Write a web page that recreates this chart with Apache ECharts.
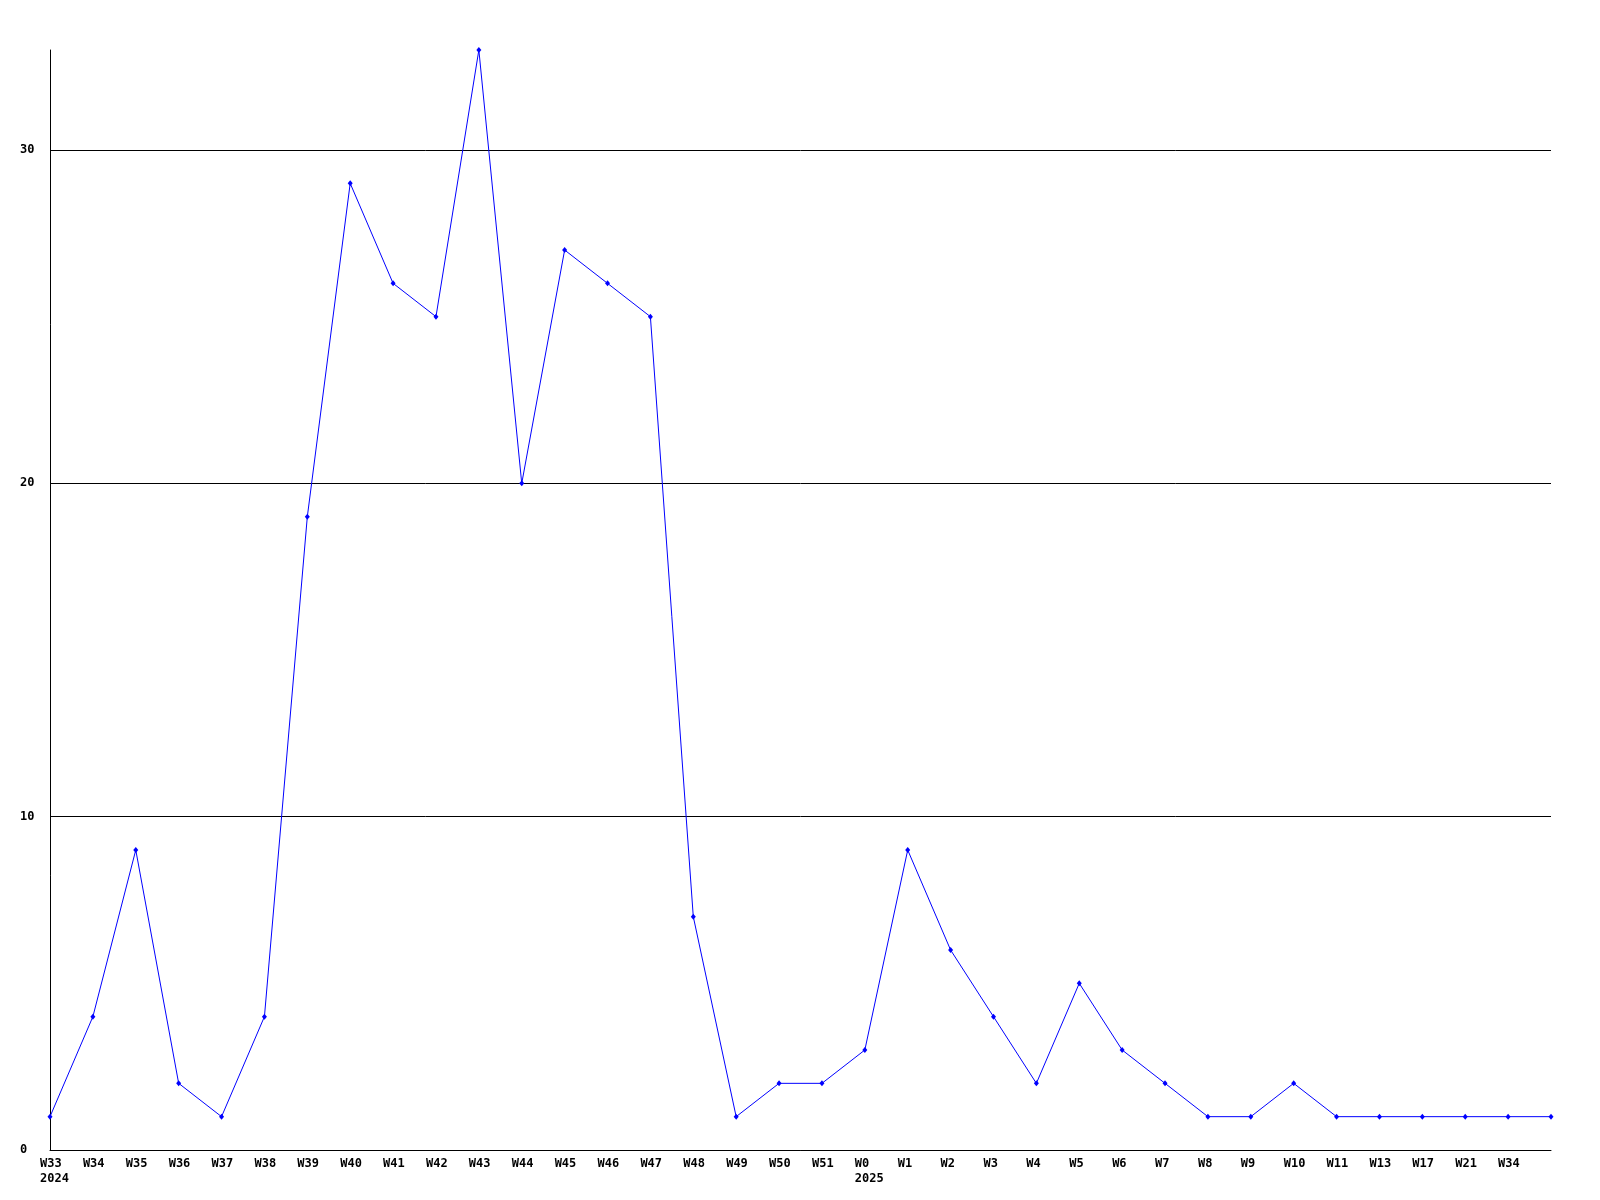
<!DOCTYPE html>
<html><head><meta charset="utf-8">
<script src="https://cdn.jsdelivr.net/npm/echarts@6/dist/echarts.min.js"></script>
<style>html,body{margin:0;padding:0;background:#fff}#c{width:1600px;height:1200px}</style>
</head><body><div id="c"></div>
<script>
const categories = ['W33','W34','W35','W36','W37','W38','W39','W40','W41','W42','W43','W44','W45','W46','W47','W48','W49','W50','W51','W0','W1','W2','W3','W4','W5','W6','W7','W8','W9','W10','W11','W13','W17','W21','W34',''];
const yearLabels = {0:'2024', 19:'2025'};
const values = [1,4,9,2,1,4,19,29,26,25,33,20,27,26,25,7,1,2,2,3,9,6,4,2,5,3,2,1,1,2,1,1,1,1,1,1];
const yTicks = [0,10,20,30];

const font = '"DejaVu Sans Mono", monospace';
const chart = echarts.init(document.getElementById('c'));
chart.setOption({
  animation:false,
  backgroundColor:'#fff',
  grid:{left:50,right:49,top:50,bottom:50,containLabel:false},
  xAxis:{
    type:'category', data:categories, boundaryGap:false,
    axisLine:{lineStyle:{color:'#000',width:1}},
    axisTick:{show:false},
    axisLabel:{interval:0, margin:6, color:'#000', fontFamily:font, fontWeight:'bold', fontSize:12,
      align:'left', lineHeight:15, padding:[0,0,0,-10],
      formatter:(v,i)=> yearLabels[i] ? v+'\n'+yearLabels[i] : v},
    splitLine:{show:false}
  },
  yAxis:{
    type:'value', min:0, max:33, interval:10,
    axisLine:{show:true,lineStyle:{color:'#000',width:1}},
    axisTick:{show:false},
    axisLabel:{margin:30, align:'left', color:'#000', fontFamily:font, fontWeight:'bold', fontSize:12,
      showMaxLabel:false, formatter:v=> yTicks.includes(v)? String(v):''},
    splitLine:{show:true, showMaxLine:false, lineStyle:{color:'#000',width:1}}
  },
  series:[{
    type:'line', data:values, color:'#0000ff',
    lineStyle:{color:'#0000ff',width:1},
    symbol:'diamond', symbolSize:[5,6], showSymbol:true,
    itemStyle:{color:'#0000ff'}
  }]
});
</script></body></html>
